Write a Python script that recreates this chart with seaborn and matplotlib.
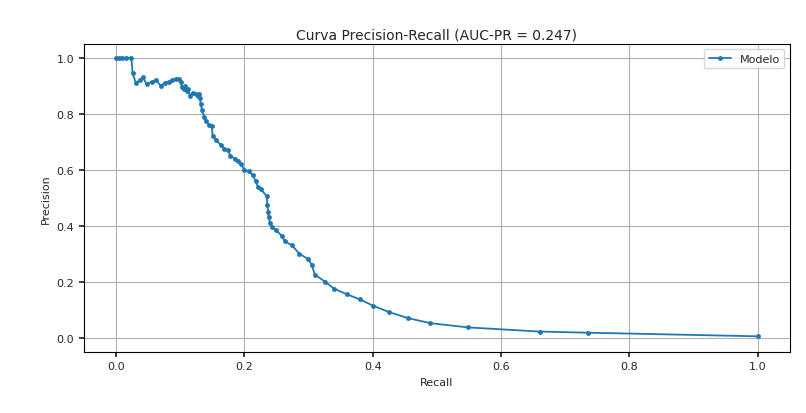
import matplotlib
matplotlib.use("Agg")
import matplotlib.pyplot as plt
import seaborn as sns
import pandas as pd

recall = [0, .005, .01, .015, .024, .026, .031, .037, .042, .048, .056, .062, .070, .076, .082, .088, .093, .098,
          .101, .103, .106, .108, .111, .113, .115, .12, .125, .128, .13, .131, .132, .134, .137, .14, .145, .149,
          .151, .156, .163, .169, .175, .178, .185, .19, .195, .2, .207, .213, .218, .221, .226, .235, .236, .237,
          .238, .24, .243, .249, .258, .263, .274, .286, .3, .305, .31, .326, .34, .36, .38, .40, .425, .455, .49,
          .548, .66, .735, 1.0]
precision = [1, 1, 1, 1, 1, .945, .91, .92, .93, .905, .915, .92, .9, .91, .915, .92, .925, .925,
             .915, .895, .89, .9, .88, .89, .865, .875, .87, .865, .87, .855, .835, .815, .79, .775, .76, .755,
             .72, .705, .69, .675, .67, .65, .64, .63, .62, .6, .595, .58, .56, .54, .53, .505, .475, .45,
             .43, .41, .395, .385, .365, .345, .33, .3, .28, .26, .225, .2, .175, .155, .137, .115, .092, .07, .052,
             .037, .022, .018, .005]
title = "Curva Precision-Recall (AUC-PR = 0.247)"

sns.set_theme(style="white")
plt.rcParams["font.family"] = ["DejaVu Sans"]
df = pd.DataFrame({"Recall": recall, "Precision": precision})
fig = plt.figure(figsize=(8.06, 4.14), dpi=100)
ax = fig.add_axes([0.104, 0.148, 0.876, 0.744])
sns.lineplot(data=df, x="Recall", y="Precision", marker=".", markersize=7, markeredgewidth=0,
             color="#1f77b4", linewidth=1.3, label="Modelo", sort=False, ax=ax)
ax.set_title(title, fontsize=10, pad=4)
ax.set_xlabel("Recall", fontsize=8)
ax.set_ylabel("Precision", fontsize=8)
ax.tick_params(labelsize=8, length=3.5, direction="out", bottom=True, left=True)
ax.set_xlim(-0.05, 1.05)
ax.set_ylim(-0.05, 1.05)
ax.grid(True, color="#b0b0b0", linewidth=0.8)
for s in ax.spines.values():
    s.set_color("black"); s.set_linewidth(0.8)
ax.legend(loc="upper right", fontsize=8, frameon=True)
fig.savefig("out.png", dpi=100)
